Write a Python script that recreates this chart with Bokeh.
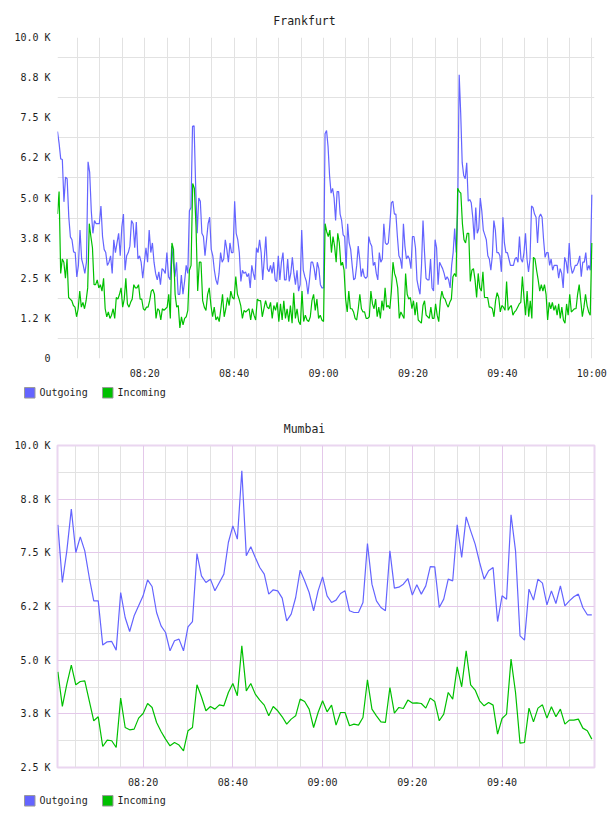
import numpy as np
from bokeh.core.properties import value
from bokeh.embed import file_html
from bokeh.layouts import column
from bokeh.models import FixedTicker, Grid, Range1d, Title
from bokeh.plotting import figure
from bokeh.resources import INLINE

# ---------------------------------------------------------------- data
# Frankfurt traffic, thousands per sample, one list per half hour
FRA_BLOCK_STARTS = ["08:00:30", "08:30", "09:00", "09:30"]
FRA_END = "10:00"

FRA_OUT_0800 = [7.07, 6.7, 6.22, 6.2, 4.88, 5.65, 5.6, 4.42, 3.79, 3.7,
                3.32, 3.3, 2.54, 2.9, 4.0, 3.1, 2.9, 2.65, 3.0, 6.13,
                5.8, 4.6, 3.9, 4.3, 4.2, 4.2, 4.2, 4.75, 3.8, 3.4,
                3.3, 2.9, 3.0, 3.2, 2.65, 3.7, 3.3, 3.6, 3.9, 3.2,
                4.1, 4.5, 2.75, 3.2, 3.3, 3.5, 4.3, 4.2, 3.45, 4.25,
                3.1, 3.2, 3.0, 2.5, 3.0, 3.45, 3.0, 4.0, 3.3, 3.6,
                3.0, 2.65, 2.45, 2.7, 2.3, 2.8, 2.75, 2.65, 3.3, 2.55,
                2.45, 3.5, 3.0, 2.55, 3.0, 2.0, 2.0, 2.6, 2.0, 2.4,
                2.9, 2.65]
FRA_OUT_0830 = [4.6, 4.7, 7.23, 7.25, 5.4, 3.9, 5.0, 4.9, 3.9, 3.8,
                3.2, 3.7, 4.2, 4.4, 3.4, 3.2, 2.75, 2.45, 2.3, 2.65,
                3.3, 3.0, 3.1, 3.7, 3.4, 3.0, 3.6, 3.3, 3.3, 4.9,
                3.9, 3.7, 3.3, 2.4, 2.75, 2.65, 2.7, 2.55, 2.65, 2.2,
                2.9, 2.65, 2.45, 3.45, 3.3, 3.7, 3.3, 2.45, 3.1, 3.8,
                2.8, 2.7, 2.9, 2.65, 3.0, 2.45, 2.4, 3.2, 2.45, 3.0,
                3.3, 2.45, 2.45, 3.1, 2.4, 2.65, 3.15, 2.65, 2.3, 2.75,
                2.1, 2.3, 4.0, 2.75, 2.55, 2.4, 2.0, 2.45, 3.0, 3.0,
                2.8, 2.45, 3.0, 2.8, 2.3, 2.2]
FRA_OUT_0900 = [2.2, 7.0, 7.1, 6.6, 5.7, 5.15, 5.3, 5.0, 4.3, 5.2,
                5.2, 4.5, 4.3, 3.85, 3.8, 2.8, 4.2, 3.6, 3.4, 2.9,
                2.45, 2.5, 2.9, 3.5, 3.1, 2.55, 2.8, 2.55, 2.5, 2.55,
                3.8, 3.6, 3.5, 2.9, 3.0, 2.65, 2.45, 3.3, 3.0, 3.1,
                4.2, 3.6, 3.55, 3.6, 4.2, 4.85, 4.9, 4.5, 4.5, 3.8,
                3.2, 3.1, 2.8, 4.2, 3.5, 3.1, 3.2, 3.1, 2.8, 3.8,
                3.8, 3.45, 2.45, 2.2, 2.0, 2.9, 4.3, 3.3, 2.5, 2.45,
                2.45, 3.1, 2.2, 2.1, 3.7, 3.45, 2.3, 3.0, 2.9, 2.8,
                2.65, 2.45, 2.55, 2.45, 2.2, 2.9, 3.3, 4.05, 3.3]
FRA_OUT_0930 = [4.6, 8.84, 7.65, 6.1, 5.7, 5.6, 6.1, 4.9, 4.95, 4.85,
                4.4, 3.7, 4.7, 3.9, 4.05, 5.0, 4.6, 4.0, 3.85, 3.7,
                3.2, 3.1, 2.75, 3.2, 4.3, 4.0, 3.3, 3.3, 3.2, 2.7,
                4.4, 3.6, 3.3, 3.3, 3.1, 2.9, 2.9, 2.9, 3.1, 3.15,
                3.0, 3.8, 3.1, 3.0, 3.3, 3.9, 3.1, 2.7, 3.1, 4.75,
                4.7, 4.5, 4.4, 3.6, 4.4, 4.5, 4.4, 3.7, 3.15, 3.3,
                3.3, 2.9, 3.1, 2.75, 2.9, 2.9, 2.9, 2.5, 2.8, 2.65,
                2.2, 3.15, 3.0, 2.65, 3.6, 2.9, 2.65, 2.75, 2.9, 2.9,
                3.0, 3.2, 2.55, 3.0, 3.0, 3.3, 2.75, 2.9, 2.75, 5.1]

FRA_IN_0800 = [4.5, 5.2, 2.65, 3.1, 3.0, 2.5, 3.1, 1.9, 1.85, 1.8,
               1.65, 1.6, 1.3, 1.55, 2.1, 1.6, 1.75, 1.55, 1.8, 2.2,
               4.2, 3.8, 3.45, 2.3, 2.3, 2.45, 2.2, 2.3, 2.1, 2.5,
               1.55, 1.3, 1.45, 1.25, 1.35, 1.55, 1.25, 1.9, 1.85, 2.0,
               2.2, 1.6, 1.85, 2.5, 1.7, 1.6, 1.75, 1.85, 2.3, 2.2,
               2.2, 2.3, 1.85, 1.85, 1.55, 1.5, 1.6, 1.6, 1.8, 2.1,
               2.15, 2.0, 1.25, 1.55, 1.5, 1.2, 1.55, 1.5, 1.55, 1.6,
               2.0, 1.25, 3.6, 3.4, 2.0, 1.6, 1.65, 0.95, 1.3, 1.05,
               1.25, 1.3, 1.5]
FRA_IN_0830 = [2.75, 2.9, 5.45, 5.3, 4.1, 2.1, 3.0, 3.0, 1.8, 1.6,
               1.5, 2.0, 2.2, 1.65, 1.3, 1.6, 1.2, 1.3, 1.15, 1.55,
               2.0, 1.3, 1.55, 1.9, 1.65, 2.1, 1.9, 1.85, 2.55, 2.0,
               1.85, 1.65, 1.25, 1.5, 1.45, 1.5, 1.55, 1.2, 1.55, 1.35,
               1.2, 1.85, 1.8, 1.8, 1.3, 1.55, 1.8, 1.6, 1.55, 1.75,
               1.25, 1.65, 1.5, 1.75, 1.15, 1.7, 1.2, 1.8, 1.25, 1.55,
               1.15, 1.65, 1.1, 2.05, 1.25, 1.55, 1.15, 1.05, 2.1, 1.15,
               1.35, 1.2, 1.15, 1.3, 1.8, 2.0, 1.5, 1.85, 1.25, 1.35,
               1.2]
FRA_IN_0900 = [1.15, 4.2, 3.95, 3.8, 4.0, 3.3, 3.8, 3.5, 3.0, 3.9,
               3.6, 2.9, 3.0, 2.75, 1.85, 1.45, 2.1, 1.55, 1.55, 1.45,
               1.25, 1.2, 1.55, 2.0, 1.55, 1.45, 1.45, 1.25, 1.25, 1.3,
               2.1, 1.7, 1.55, 1.85, 1.3, 1.6, 1.25, 1.8, 1.5, 2.2,
               1.6, 1.65, 1.55, 2.1, 3.0, 2.65, 2.5, 2.2, 1.25, 1.45,
               1.35, 1.25, 2.65, 2.0, 1.85, 1.9, 1.55, 1.8, 1.35, 1.75,
               1.2, 1.15, 1.1, 1.65, 1.8, 1.35, 1.3, 1.25, 1.6, 1.25,
               1.25, 1.7, 1.35, 1.15, 1.8, 2.1, 1.9, 1.85, 1.7, 1.6,
               1.75, 1.85, 2.55, 2.65, 2.55]
FRA_IN_0930 = [5.3, 5.2, 5.15, 4.2, 3.7, 3.6, 3.9, 3.9, 2.4, 2.75,
               2.8, 2.45, 1.9, 2.65, 2.2, 2.1, 2.7, 1.9, 1.9, 1.9,
               1.6, 1.6, 1.55, 1.3, 1.8, 2.05, 1.9, 1.45, 1.65, 1.6,
               1.5, 2.4, 1.5, 1.6, 1.65, 1.35, 1.45, 1.5, 1.6, 1.7,
               1.75, 2.55, 1.9, 1.35, 2.1, 1.3, 1.8, 1.25, 3.15, 3.1,
               2.75, 2.45, 2.1, 2.3, 2.1, 2.3, 2.0, 1.2, 1.75, 1.55,
               1.75, 1.5, 1.65, 1.35, 1.7, 1.25, 1.6, 1.2, 1.1, 1.7,
               1.35, 2.0, 1.45, 1.5, 1.55, 1.55, 2.0, 2.3, 1.8, 1.3,
               1.6, 2.0, 1.65, 1.45, 1.35, 3.6]

# Mumbai traffic, one sample per minute starting 08:01
MUM_START = "08:01"
MUM_OUT = [8152, 6809, 7547, 8518, 7508, 7873, 7547, 6925, 6382, 6382,
           5351, 5428, 5436, 5234, 6576, 5994, 5668, 6033, 6266, 6499,
           6872, 6716, 6110, 5800, 5644, 5218, 5451, 5490, 5218, 5777,
           5900, 7484, 6965, 6809, 6887, 6615, 6809, 7004, 7741, 8129,
           7819, 9410, 7431, 7640, 7391, 7158, 7004, 6538, 6639, 6615,
           6445, 5917, 6072, 6460, 7097, 6848,
           6576, 6150, 6615, 6941, 6499, 6343, 6398, 6553, 6615, 6150,
           6110, 6110, 6343, 7717, 6771, 6382, 6227, 6150, 7547, 6678,
           6701, 6771, 6902, 6515, 6755, 6538, 6731, 7181, 7174, 6227,
           6421, 6887, 6848, 8152, 7391, 8339, 8012, 7702, 7275, 6887,
           7081, 7158, 5900, 6499, 6421, 8386, 7547, 5567, 5467, 6655,
           6398, 6887, 6794, 6289, 6615, 6320, 6731, 6266, 6382, 6476,
           6538, 6227, 6057, 6057]
MUM_IN = [4729, 3921, 4442, 4885, 4426, 4503, 4519, 4053, 3588, 3681,
          2989, 3138, 3123, 2966, 4116, 3432, 3378, 3394, 3650, 3758,
          3991, 3898, 3548, 3339, 3161, 3005, 3082, 3022, 2889, 3355,
          3432, 4426, 4147, 3821, 3921, 3860, 3960, 3937, 4247, 4456,
          4170, 5334, 4286, 4456, 4209, 4070, 3953, 3704, 3921, 3821,
          3681, 3510, 3627, 3704, 4093, 4037,
          3860, 3432, 3781, 4053, 3797, 3953, 3487, 3781, 3781, 3471,
          3510, 3487, 3665, 4543, 3860, 3704, 3564, 3549, 4363, 3766,
          3898, 3875, 4070, 4000, 4007, 3991, 3883, 4116, 4037, 3588,
          3743, 4247, 4093, 4845, 4380, 5218, 4426, 4303, 4053, 3937,
          4014, 3953, 3277, 3642, 3743, 5024, 4247, 3068, 3082, 3883,
          3564, 3883, 3960, 3650, 3914, 3681, 3860, 3510, 3604, 3604,
          3627, 3417, 3355, 3161]

SERIES_LABELS = ["Outgoing", "Incoming"]
FRA_X_LABELS = ["08:20", "08:40", "09:00", "09:20", "09:40", "10:00"]
MUM_X_LABELS = ["08:20", "08:40", "09:00", "09:20", "09:40"]
FRA_Y_TICKS = [0, 1250, 2500, 3750, 5000, 6250, 7500, 8750, 10000]
FRA_Y_LABELS = ["0", "1.2 K", "2.5 K", "3.8 K", "5.0 K", "6.2 K", "7.5 K", "8.8 K", "10.0 K"]
MUM_Y_TICKS = [2500, 3750, 5000, 6250, 7500, 8750, 10000]
MUM_Y_LABELS = ["2.5 K", "3.8 K", "5.0 K", "6.2 K", "7.5 K", "8.8 K", "10.0 K"]

# ---------------------------------------------------------------- style
FONT = "DejaVu Sans Mono"
OUT_COLOR = "#6464ff"
IN_COLOR = "#00c000"
GRID_GRAY = "#e2e2e2"
GRID_PURPLE = "#e4c8ea"
TEXT = "#1e1e1e"
W = 608
LEFT, RIGHT, TOP, BOTTOM = 57, 14, 37, 24
TITLE_SIZE = 11.5


def to_min(s):
    parts = [int(v) for v in s.split(":")]
    return parts[0] * 60 + parts[1] + (parts[2] / 60 if len(parts) > 2 else 0)


def block_times(blocks):
    edges = [to_min(s) for s in FRA_BLOCK_STARTS] + [to_min(FRA_END)]
    xs = []
    for k, vals in enumerate(blocks):
        last = k == len(blocks) - 1
        xs.append(np.linspace(edges[k], edges[k + 1], len(vals), endpoint=last))
    return np.concatenate(xs)


def make_panel(title, x_range, y_range, y_ticks, y_labels, x_labels, frame_h):
    p = figure(width=W, height=TOP + frame_h + BOTTOM, x_range=x_range, y_range=y_range,
               output_backend="svg", toolbar_location=None,
               min_border_left=LEFT, min_border_right=RIGHT,
               min_border_top=TOP, min_border_bottom=BOTTOM)
    p.background_fill_color = "white"
    p.border_fill_color = "white"
    p.outline_line_color = None

    # title centred on the page width (the plot area sits right of centre)
    text_w = len(title) * 0.602 * TITLE_SIZE
    p.title = Title(text=title, align="left", offset=W / 2 - LEFT - text_w / 2,
                    standoff=20, text_font=FONT, text_font_size=f"{TITLE_SIZE}px",
                    text_font_style="normal", text_color=TEXT)

    for ax in (p.xaxis[0], p.yaxis[0]):
        ax.axis_line_color = None
        ax.major_tick_line_color = None
        ax.minor_tick_line_color = None
        ax.major_tick_out = 0
        ax.major_tick_in = 0
        ax.minor_tick_out = 0
        ax.major_label_text_font = FONT
        ax.major_label_text_font_size = "10px"
        ax.major_label_text_color = TEXT

    p.yaxis.ticker = FixedTicker(ticks=y_ticks)
    p.yaxis.major_label_overrides = dict(zip(y_ticks, y_labels))
    p.yaxis.major_label_standoff = 7

    x_ticks = [to_min(s) for s in x_labels]
    p.xaxis.ticker = FixedTicker(ticks=x_ticks)
    p.xaxis.major_label_overrides = dict(zip(x_ticks, x_labels))
    p.xaxis.major_label_standoff = 9
    return p


def legend_strip(height, centre_y):
    """A thin strip under a chart holding the colour key."""
    s = figure(width=W, height=height, x_range=Range1d(0, W), y_range=Range1d(height, 0),
               x_axis_type=None, y_axis_type=None, min_border=0,
               output_backend="svg", toolbar_location=None)
    s.frame_align = False
    s.outline_line_color = None
    s.background_fill_color = "white"
    s.border_fill_color = "white"
    box_left = [24, 102]
    size = 10.5
    s.quad(left=box_left, right=[b + size for b in box_left],
           top=[centre_y - size / 2] * 2, bottom=[centre_y + size / 2] * 2,
           fill_color=[OUT_COLOR, IN_COLOR], line_color="#9a9a9a", line_width=1)
    s.text(x=[b + size + 4.5 for b in box_left], y=[centre_y] * 2, text=SERIES_LABELS,
           text_font=value(FONT), text_font_size="10px", text_color=TEXT,
           text_baseline="middle", text_align="left")
    return s


# ---------------------------------------------------------------- Frankfurt
fra = make_panel("Frankfurt", Range1d(480.5, 600.6), Range1d(0, 10000),
                 FRA_Y_TICKS, FRA_Y_LABELS, FRA_X_LABELS, frame_h=321)
fra.xgrid.ticker = FixedTicker(ticks=list(range(485, 601, 5)))
fra.ygrid.ticker = FixedTicker(ticks=[t + 625 for t in FRA_Y_TICKS[:-1]])
fra.xgrid.grid_line_color = GRID_GRAY
fra.ygrid.grid_line_color = GRID_GRAY

fra_out = [FRA_OUT_0800, FRA_OUT_0830, FRA_OUT_0900, FRA_OUT_0930]
fra_in = [FRA_IN_0800, FRA_IN_0830, FRA_IN_0900, FRA_IN_0930]
fra.line(block_times(fra_out), np.concatenate(fra_out) * 1000,
         line_color=OUT_COLOR, line_width=1.2)
fra.line(block_times(fra_in), np.concatenate(fra_in) * 1000,
         line_color=IN_COLOR, line_width=1.2)

# ---------------------------------------------------------------- Mumbai
mum = make_panel("Mumbai", Range1d(480.92, 600.6), Range1d(2500, 10000),
                 MUM_Y_TICKS, MUM_Y_LABELS, MUM_X_LABELS, frame_h=322)
mum.outline_line_color = "#ead6f0"
mum.outline_line_width = 2
mum.xgrid.visible = False
mum.ygrid.visible = False
minor_x = [m for m in range(485, 600, 5) if m % 20 != 0]
major_x = [m for m in range(500, 600, 20)]
mum.add_layout(Grid(dimension=0, ticker=FixedTicker(ticks=minor_x), grid_line_color=GRID_GRAY))
mum.add_layout(Grid(dimension=1, ticker=FixedTicker(ticks=[t + 625 for t in MUM_Y_TICKS[:-1]]),
                    grid_line_color=GRID_GRAY))
mum.add_layout(Grid(dimension=0, ticker=FixedTicker(ticks=major_x), grid_line_color=GRID_PURPLE))
mum.add_layout(Grid(dimension=1, ticker=FixedTicker(ticks=MUM_Y_TICKS[1:-1]),
                    grid_line_color=GRID_PURPLE))

mum_t = to_min(MUM_START) + np.arange(len(MUM_OUT))
mum.line(mum_t, MUM_OUT, line_color=OUT_COLOR, line_width=1.2)
mum.line(mum_t, MUM_IN, line_color=IN_COLOR, line_width=1.2)

layout = column(fra, legend_strip(26, 10.3), mum, legend_strip(25, 9.3), spacing=0)
open("out.html", "w").write(file_html(layout, INLINE))
